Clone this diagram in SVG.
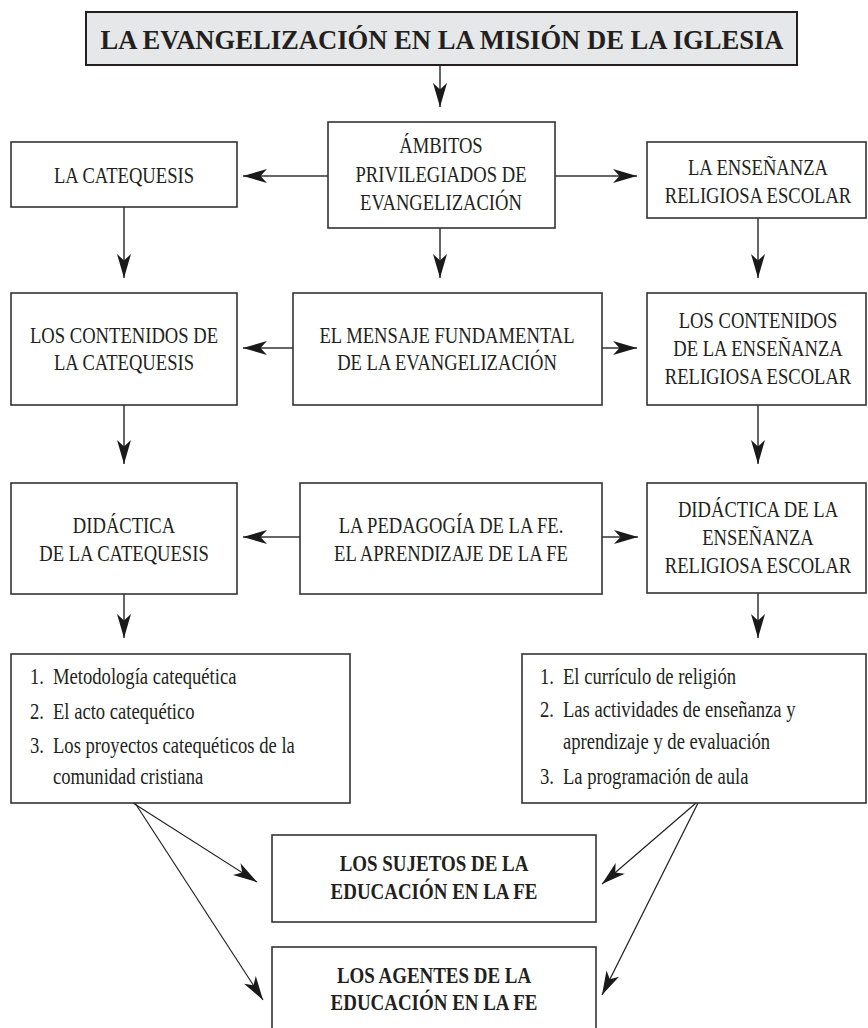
<svg xmlns="http://www.w3.org/2000/svg" width="868" height="1028" viewBox="0 0 868 1028">
<style>
.box{fill:#ffffff;stroke:#333333;stroke-width:1.6}
.tbox{fill:#e6e7e8;stroke:#231f20;stroke-width:2}
.t{font-family:"Liberation Serif","Times New Roman",serif;font-size:24px;fill:#231f20;text-anchor:middle}
.tb{font-family:"Liberation Serif","Times New Roman",serif;font-size:24px;font-weight:bold;fill:#231f20;text-anchor:middle}
.tl{font-family:"Liberation Serif","Times New Roman",serif;font-size:23px;fill:#231f20}
.title{font-family:"Liberation Serif","Times New Roman",serif;font-size:28px;font-weight:bold;fill:#231f20;text-anchor:middle}
.c{fill:none;stroke:#333333;stroke-width:1.5}
.d{fill:none;stroke:#231f20;stroke-width:1.2}
</style>
<defs>
<marker id="ah" viewBox="-26 -8 28 16" refX="0" refY="0" markerWidth="28" markerHeight="16" markerUnits="userSpaceOnUse" orient="auto">
<path d="M0,0 L-24,-7 L-17.5,0 L-24,7 Z" fill="#1a1a1a"/>
</marker>
</defs>

<g id="connectors">
<line class="c" x1="440" y1="65" x2="440" y2="107" marker-end="url(#ah)"/>
<line class="c" x1="328" y1="176" x2="243" y2="176" marker-end="url(#ah)"/>
<line class="c" x1="555" y1="176" x2="637" y2="176" marker-end="url(#ah)"/>
<line class="c" x1="124" y1="207" x2="124" y2="278" marker-end="url(#ah)"/>
<line class="c" x1="440" y1="228" x2="440" y2="278" marker-end="url(#ah)"/>
<line class="c" x1="758" y1="218" x2="758" y2="278" marker-end="url(#ah)"/>
<line class="c" x1="293" y1="348" x2="243" y2="348" marker-end="url(#ah)"/>
<line class="c" x1="602" y1="348" x2="637" y2="348" marker-end="url(#ah)"/>
<line class="c" x1="124" y1="405" x2="124" y2="464" marker-end="url(#ah)"/>
<line class="c" x1="758" y1="405" x2="758" y2="464" marker-end="url(#ah)"/>
<line class="c" x1="300" y1="537" x2="243" y2="537" marker-end="url(#ah)"/>
<line class="c" x1="602" y1="537" x2="638" y2="537" marker-end="url(#ah)"/>
<line class="c" x1="124" y1="594" x2="124" y2="638" marker-end="url(#ah)"/>
<line class="c" x1="758" y1="593" x2="758" y2="638" marker-end="url(#ah)"/>
<line class="d" x1="133" y1="803" x2="257" y2="882" marker-end="url(#ah)"/>
<line class="d" x1="135" y1="803" x2="263" y2="1000" marker-end="url(#ah)"/>
<line class="d" x1="696" y1="803" x2="602" y2="884" marker-end="url(#ah)"/>
<line class="d" x1="698" y1="803" x2="602" y2="995" marker-end="url(#ah)"/>
</g>

<g id="title">
<rect class="tbox" x="86" y="12" width="711" height="53"/>
<text class="title" x="442" y="48.5" textLength="683" lengthAdjust="spacingAndGlyphs">LA EVANGELIZACIÓN EN LA MISIÓN DE LA IGLESIA</text>
</g>

<g id="ambitos">
<rect class="box" x="328" y="122" width="227" height="106"/>
<text class="t" transform="translate(441 0) scale(0.775 1)"><tspan x="0" y="153">ÁMBITOS</tspan><tspan x="0" y="182">PRIVILEGIADOS DE</tspan><tspan x="0" y="210">EVANGELIZACIÓN</tspan></text>
</g>

<g id="catequesis">
<rect class="box" x="11" y="142" width="226" height="65"/>
<text class="t" transform="translate(124 0) scale(0.775 1)"><tspan x="0" y="183">LA CATEQUESIS</tspan></text>
</g>

<g id="ensenanza">
<rect class="box" x="647" y="142" width="219" height="76"/>
<text class="t" transform="translate(758 0) scale(0.775 1)"><tspan x="0" y="175">LA ENSEÑANZA</tspan><tspan x="0" y="203">RELIGIOSA ESCOLAR</tspan></text>
</g>

<g id="contenidos-catequesis">
<rect class="box" x="11" y="293" width="226" height="112"/>
<text class="t" transform="translate(124 0) scale(0.775 1)"><tspan x="0" y="343">LOS CONTENIDOS DE</tspan><tspan x="0" y="370">LA CATEQUESIS</tspan></text>
</g>

<g id="mensaje">
<rect class="box" x="293" y="293" width="309" height="112"/>
<text class="t" transform="translate(447 0) scale(0.775 1)"><tspan x="0" y="343">EL MENSAJE FUNDAMENTAL</tspan><tspan x="0" y="370">DE LA EVANGELIZACIÓN</tspan></text>
</g>

<g id="contenidos-ensenanza">
<rect class="box" x="647" y="293" width="219" height="112"/>
<text class="t" transform="translate(758 0) scale(0.775 1)"><tspan x="0" y="328">LOS CONTENIDOS</tspan><tspan x="0" y="356">DE LA ENSEÑANZA</tspan><tspan x="0" y="384">RELIGIOSA ESCOLAR</tspan></text>
</g>

<g id="didactica-catequesis">
<rect class="box" x="11" y="483" width="226" height="111"/>
<text class="t" transform="translate(124 0) scale(0.775 1)"><tspan x="0" y="533">DIDÁCTICA</tspan><tspan x="0" y="561">DE LA CATEQUESIS</tspan></text>
</g>

<g id="pedagogia">
<rect class="box" x="300" y="483" width="302" height="111"/>
<text class="t" transform="translate(451 0) scale(0.775 1)"><tspan x="0" y="533">LA PEDAGOGÍA DE LA FE.</tspan><tspan x="0" y="561">EL APRENDIZAJE DE LA FE</tspan></text>
</g>

<g id="didactica-ensenanza">
<rect class="box" x="647" y="483" width="219" height="110"/>
<text class="t" transform="translate(758 0) scale(0.775 1)"><tspan x="0" y="517">DIDÁCTICA DE LA</tspan><tspan x="0" y="545">ENSEÑANZA</tspan><tspan x="0" y="573">RELIGIOSA ESCOLAR</tspan></text>
</g>

<g id="lista-catequesis">
<rect class="box" x="11" y="654" width="339" height="149"/>
<text class="tl" transform="translate(30 0) scale(0.81 1)"><tspan x="0" y="684">1.</tspan><tspan x="28.4" y="684">Metodología catequética</tspan><tspan x="0" y="719">2.</tspan><tspan x="28.4" y="719">El acto catequético</tspan><tspan x="0" y="753">3.</tspan><tspan x="28.4" y="753">Los proyectos catequéticos de la</tspan><tspan x="28.4" y="784">comunidad cristiana</tspan></text>
</g>

<g id="lista-ensenanza">
<rect class="box" x="522" y="654" width="344" height="149"/>
<text class="tl" transform="translate(540 0) scale(0.81 1)"><tspan x="0" y="684">1.</tspan><tspan x="28.4" y="684">El currículo de religión</tspan><tspan x="0" y="717">2.</tspan><tspan x="28.4" y="717">Las actividades de enseñanza y</tspan><tspan x="28.4" y="749">aprendizaje y de evaluación</tspan><tspan x="0" y="784">3.</tspan><tspan x="28.4" y="784">La programación de aula</tspan></text>
</g>

<g id="sujetos">
<rect class="box" x="272" y="835" width="324" height="87"/>
<text class="tb" transform="translate(434 0) scale(0.79 1)"><tspan x="0" y="871">LOS SUJETOS DE LA</tspan><tspan x="0" y="899">EDUCACIÓN EN LA FE</tspan></text>
</g>

<g id="agentes">
<rect class="box" x="272" y="947" width="324" height="86"/>
<text class="tb" transform="translate(434 0) scale(0.79 1)"><tspan x="0" y="983">LOS AGENTES DE LA</tspan><tspan x="0" y="1010">EDUCACIÓN EN LA FE</tspan></text>
</g>
</svg>
